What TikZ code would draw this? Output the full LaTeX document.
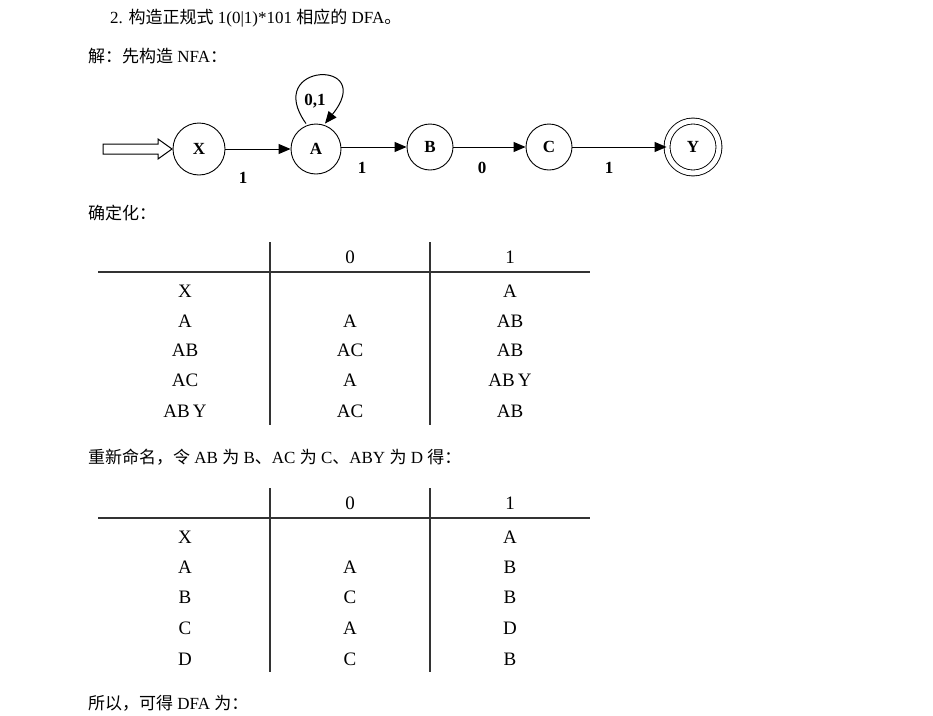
\documentclass[tikz,border=0pt]{standalone}
\usepackage{fontspec}
\setmainfont{Liberation Serif}
\newfontfamily\cjk{Noto Sans CJK SC}
\newfontfamily\tbl{Liberation Serif}
\usetikzlibrary{arrows.meta}
\begin{document}
\begin{tikzpicture}[x=1pt,y=-1pt,
  txt/.style={anchor=west,inner sep=0pt,font=\fontsize{17}{19}\selectfont},
  st/.style={circle,draw,line width=0.9pt,minimum size=52pt,inner sep=0pt,font=\bfseries\fontsize{17}{19}\selectfont},
  lab/.style={font=\bfseries\fontsize{17}{19}\selectfont},
  tr/.style={-{Triangle[length=12pt,width=10pt]},line width=1pt},
  cell/.style={font=\tbl\fontsize{19}{21}\selectfont,inner sep=0pt},
  rule/.style={line width=1.4pt,draw=black!80}]
\useasboundingbox[fill=white] (0,0) rectangle (933,715);
\node[txt] (t1) at (110,18) {2. {\cjk 构造正规式} 1(0|1)*101 {\cjk 相应的} DFA{\cjk 。}};
\node[txt] (t2) at (88,56) {{\cjk 解：先构造} NFA{\cjk ：}};
% NFA
\node[st] (X) at (199,149) {X};
\node[st,minimum size=50pt] (A) at (316,149) {A};
\node[st,minimum size=46pt] (B) at (430,147) {B};
\node[st,minimum size=46pt] (C) at (549,147) {C};
\node[st,double,double distance=5pt,minimum size=52pt] (Y) at (693,147) {Y};
\draw[line width=1pt] (103,144) -- (158,144) -- (158,139) -- (172,149) -- (158,159) -- (158,154) -- (103,154) -- cycle;
\draw[tr] (X) -- (A);
\draw[tr] (A.east |- B) -- (B.west);
\draw[tr] (B) -- (C.west);
\draw[tr] (C) -- (Y.west);
\draw[tr] ([xshift=-10pt]A.north) .. controls (262,62) and (378,58) .. ([xshift=9pt]A.north);
\node[lab] at (315,101) {0,1};
\node[lab] at (243,178) {1};
\node[lab] at (362,168) {1};
\node[lab] at (482,168) {0};
\node[lab] at (609,168) {1};
% table 1
\node[txt] (t3) at (88,213) {\cjk 确定化：};
\draw[rule] (98,272) -- (590,272);
\draw[rule] (270,242) -- (270,425);
\draw[rule] (430,242) -- (430,425);
\foreach \y/\a/\b/\c in {257//0/1,291/X//A,321/A/A/AB,350/AB/AC/AB,380/AC/A/AB\,Y,411/AB\,Y/AC/AB}
  {\node[cell] at (185,\y) {\a}; \node[cell] at (350,\y) {\b}; \node[cell] at (510,\y) {\c};}
% table 2
\node[txt] (t4) at (88,457) {{\cjk 重新命名，令} AB {\cjk 为} B{\cjk 、}AC {\cjk 为} C{\cjk 、}ABY {\cjk 为} D {\cjk 得：}};
\draw[rule] (98,518) -- (590,518);
\draw[rule] (270,488) -- (270,672);
\draw[rule] (430,488) -- (430,672);
\foreach \y/\a/\b/\c in {503//0/1,537/X//A,567/A/A/B,597/B/C/B,628/C/A/D,659/D/C/B}
  {\node[cell] at (185,\y) {\a}; \node[cell] at (350,\y) {\b}; \node[cell] at (510,\y) {\c};}
\node[txt] (t5) at (88,703) {{\cjk 所以，可得} DFA {\cjk 为：}};
\end{tikzpicture}
\end{document}
